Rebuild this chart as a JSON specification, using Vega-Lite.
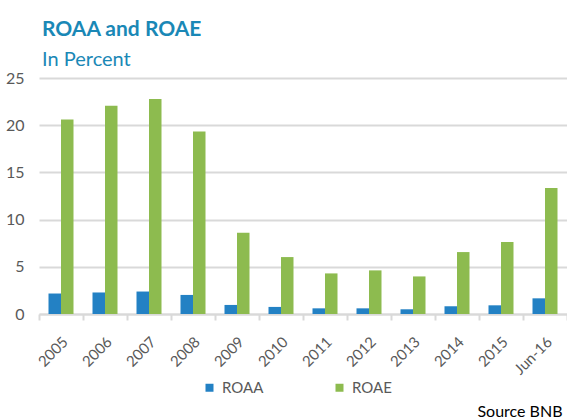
{
  "$schema": "https://vega.github.io/schema/vega-lite/v6.json",
  "width": 528,
  "height": 236,
  "autosize": {"type": "none"},
  "padding": {"left": 39, "top": 78, "right": 0, "bottom": 105},
  "background": "white",
  "title": {
    "text": "ROAA and ROAE",
    "subtitle": "In Percent",
    "anchor": "start",
    "frame": "group",
    "font": "Lato",
    "fontSize": 21,
    "fontWeight": "bold",
    "color": "#1a88b6",
    "subtitleFont": "Lato",
    "subtitleFontSize": 20,
    "subtitleColor": "#1a88b6",
    "subtitlePadding": 10,
    "offset": 0,
    "dx": 3
  },
  "data": {
    "values": [
      {"period": "2005", "series": "ROAA", "value": 2.17},
      {"period": "2006", "series": "ROAA", "value": 2.28},
      {"period": "2007", "series": "ROAA", "value": 2.38},
      {"period": "2008", "series": "ROAA", "value": 2.02},
      {"period": "2009", "series": "ROAA", "value": 0.96},
      {"period": "2010", "series": "ROAA", "value": 0.75},
      {"period": "2011", "series": "ROAA", "value": 0.6},
      {"period": "2012", "series": "ROAA", "value": 0.6},
      {"period": "2013", "series": "ROAA", "value": 0.5},
      {"period": "2014", "series": "ROAA", "value": 0.82},
      {"period": "2015", "series": "ROAA", "value": 0.92},
      {"period": "Jun-16", "series": "ROAA", "value": 1.66},
      {"period": "2005", "series": "ROAE", "value": 20.6},
      {"period": "2006", "series": "ROAE", "value": 22.06},
      {"period": "2007", "series": "ROAE", "value": 22.77},
      {"period": "2008", "series": "ROAE", "value": 19.33},
      {"period": "2009", "series": "ROAE", "value": 8.62},
      {"period": "2010", "series": "ROAE", "value": 6.03},
      {"period": "2011", "series": "ROAE", "value": 4.3},
      {"period": "2012", "series": "ROAE", "value": 4.62},
      {"period": "2013", "series": "ROAE", "value": 3.98},
      {"period": "2014", "series": "ROAE", "value": 6.56},
      {"period": "2015", "series": "ROAE", "value": 7.62},
      {"period": "Jun-16", "series": "ROAE", "value": 13.36}
    ]
  },
  "mark": {"type": "bar"},
  "encoding": {
    "x": {
      "field": "period",
      "type": "nominal",
      "sort": null,
      "scale": {"paddingInner": 0, "paddingOuter": 0},
      "axis": {
        "title": "Source BNB",
        "titleX": 523,
        "titleY": 102,
        "titleAlign": "right",
        "titleBaseline": "alphabetic",
        "titleFont": "Lato",
        "titleFontSize": 16,
        "titleFontWeight": "normal",
        "titleColor": "#000000",
        "tickBand": "extent",
        "domainColor": "#d9d9d9",
        "domainWidth": 2,
        "tickColor": "#d9d9d9",
        "tickWidth": 2,
        "tickSize": 6,
        "labelAngle": -45,
        "labelAlign": "right",
        "labelBaseline": "middle",
        "labelPadding": 19,
        "labelOffset": 4,
        "labelFont": "Lato",
        "labelFontSize": 15,
        "labelColor": "#595959"
      }
    },
    "xOffset": {
      "field": "series",
      "type": "nominal",
      "scale": {"paddingOuter": 0.76, "paddingInner": 0}
    },
    "y": {
      "field": "value",
      "type": "quantitative",
      "scale": {"domain": [0, 25], "nice": false},
      "axis": {
        "title": null,
        "values": [0, 5, 10, 15, 20, 25],
        "domain": false,
        "ticks": false,
        "grid": true,
        "gridColor": "#d9d9d9",
        "gridWidth": 2,
        "labelPadding": 15,
        "labelFont": "Lato",
        "labelFontSize": 16,
        "labelColor": "#595959"
      }
    },
    "color": {
      "field": "series",
      "type": "nominal",
      "scale": {"domain": ["ROAA", "ROAE"], "range": ["#2381c4", "#8dbb4f"]},
      "legend": {
        "title": null,
        "orient": "none",
        "legendX": 163,
        "legendY": 302,
        "direction": "horizontal",
        "symbolType": "square",
        "symbolSize": 64,
        "symbolStrokeWidth": 0,
        "labelFont": "Lato",
        "labelFontSize": 15,
        "labelColor": "#595959",
        "labelOffset": 5,
        "columnPadding": 68
      }
    }
  },
  "config": {"view": {"stroke": null}}
}
